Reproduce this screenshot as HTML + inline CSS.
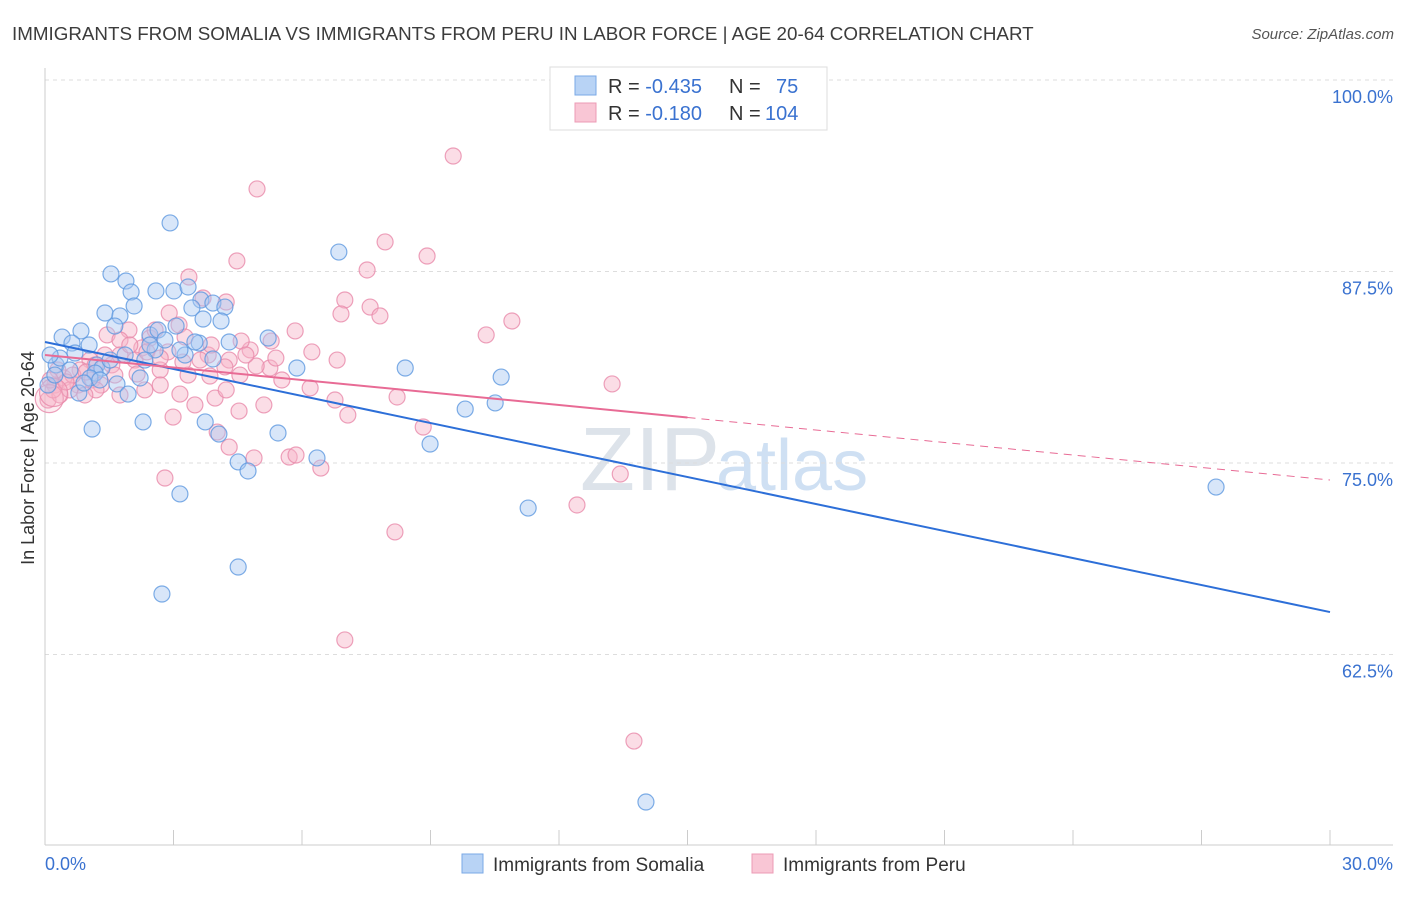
<!DOCTYPE html>
<html><head><meta charset="utf-8"><style>
body{margin:0;background:#fff;font-family:"Liberation Sans",sans-serif}
svg text{font-family:"Liberation Sans",sans-serif}
</style></head><body>
<svg id="c" width="1406" height="892" xmlns="http://www.w3.org/2000/svg">
<text x="12" y="40" font-size="18.8" fill="#3c3c3c">IMMIGRANTS FROM SOMALIA VS IMMIGRANTS FROM PERU IN LABOR FORCE | AGE 20-64 CORRELATION CHART</text>
<text x="1394" y="39" font-size="15" fill="#555" font-style="italic" text-anchor="end">Source: ZipAtlas.com</text>
<text x="720" y="490" font-size="90" fill="#dde3ea" text-anchor="end" font-family="Liberation Serif">ZIP</text>
<text x="716" y="490" font-size="72" fill="#cfe0f3">atlas</text>
<text transform="translate(34,458) rotate(-90)" font-size="18" fill="#333" text-anchor="middle">In Labor Force | Age 20-64</text>
<g id="grid"></g><g id="pts"></g><g id="lines"></g>
<g>
<rect x="550" y="67" width="277" height="63" fill="#fff" stroke="#ddd"/>
<rect x="575" y="76" width="21" height="19" fill="#b8d3f5" stroke="#7aa8e6"/>
<rect x="575" y="103" width="21" height="19" fill="#f9c6d5" stroke="#ec9bb5"/>
<text x="608" y="93" font-size="20" fill="#333">R = <tspan fill="#3a72d0">-0.435</tspan><tspan x="729">N =</tspan><tspan x="776" fill="#3a72d0">75</tspan></text>
<text x="608" y="120" font-size="20" fill="#333">R = <tspan fill="#3a72d0"> -0.180</tspan><tspan x="729">N =</tspan><tspan x="765" fill="#3a72d0">104</tspan></text>
</g>
<g>
<rect x="462" y="854" width="21" height="19" fill="#b8d3f5" stroke="#7aa8e6"/>
<text x="493" y="871" font-size="19" fill="#333">Immigrants from Somalia</text>
<rect x="752" y="854" width="21" height="19" fill="#f9c6d5" stroke="#ec9bb5"/>
<text x="783" y="871" font-size="19" fill="#333">Immigrants from Peru</text>
</g>
<text x="45" y="870" font-size="18" fill="#3a72d0">0.0%</text>
<text x="1393" y="870" font-size="18" fill="#3a72d0" text-anchor="end">30.0%</text>
</svg>
<script>
const yTicks=[100,87.5,75,62.5];
const yTickLabels=["100.0%","87.5%","75.0%","62.5%"];
const xTicks=[0,3,6,9,12,15,18,21,24,27,30];
const somaliaX=[2.92,6.86,1.54,1.89,2.01,2.59,3.01,3.34,3.64,3.92,4.20,3.43,2.08,1.40,1.75,3.69,4.11,0.84,0.40,1.63,2.45,2.64,3.06,3.60,4.30,5.21,0.63,1.03,0.26,0.35,0.70,1.21,1.33,1.17,1.05,0.07,3.27,3.92,5.88,8.41,10.65,1.68,0.79,1.94,2.22,9.81,10.51,2.29,3.74,1.10,4.06,5.44,8.99,6.35,4.51,4.74,3.15,11.28,27.34,4.51,2.73,14.03,2.57,2.80,0.12,0.58,0.91,1.52,2.45,3.15,1.28,0.23,1.87,2.33,3.50];
const somaliaY=[90.67,88.77,87.34,86.88,86.16,86.23,86.23,86.49,85.64,85.44,85.18,85.12,85.25,84.79,84.60,84.40,84.27,83.62,83.22,83.94,83.36,83.68,83.94,82.83,82.90,83.16,82.83,82.70,81.40,81.85,82.18,81.40,81.20,80.87,80.55,80.09,82.05,81.79,81.20,81.20,80.61,80.16,79.57,79.50,80.55,78.52,78.92,77.68,77.68,77.22,76.89,76.96,76.24,75.33,75.07,74.48,72.98,72.06,73.43,68.21,66.45,52.87,82.38,83.03,82.05,81.07,80.22,81.72,82.70,82.38,80.42,80.74,82.05,81.72,82.90];
const peruX=[9.53,4.95,7.94,8.92,4.48,7.52,3.36,7.00,7.59,6.91,7.82,10.90,10.30,4.23,3.69,2.90,3.13,1.96,1.45,1.75,2.45,3.27,5.28,5.84,6.23,6.82,4.79,4.30,3.81,2.87,2.26,1.40,1.05,0.82,0.44,0.23,0.07,0.35,0.77,1.10,1.56,2.10,2.69,3.34,3.85,4.55,5.25,5.53,6.19,6.77,7.07,8.22,8.83,4.53,5.11,3.97,3.50,2.99,4.02,13.24,4.30,4.88,5.70,5.86,6.44,13.43,12.42,2.80,8.17,7.00,13.75,0.19,0.58,1.17,1.75,2.38,2.69,1.31,1.63,0.30,0.65,3.22,3.62,4.20,4.93,5.39,0.49,0.96,1.98,2.57,4.58,3.88,4.23,4.69,3.15,2.33,1.75,1.19,0.12,2.15,2.69,0.93,0.10,0.20];
const peruY=[95.04,92.89,89.43,88.51,88.19,87.60,87.14,85.64,85.18,84.73,84.60,84.27,83.36,85.51,85.77,84.79,84.01,83.68,83.36,83.03,83.16,83.22,82.96,83.62,82.25,81.72,82.38,81.72,82.05,82.25,82.51,82.05,81.72,81.07,80.55,80.09,79.11,79.44,80.09,80.42,81.40,81.72,81.07,80.74,80.68,80.74,81.20,80.42,79.90,79.11,78.13,79.31,77.35,78.39,78.79,79.24,78.79,78.00,77.02,80.16,76.04,75.33,75.39,75.52,74.67,74.28,72.26,74.02,70.50,63.45,56.85,79.77,79.77,81.40,82.05,82.25,81.85,80.09,80.74,81.07,80.74,81.59,81.72,81.27,81.33,81.85,80.29,80.94,82.70,83.68,82.96,82.70,79.77,82.05,79.50,79.77,79.44,79.77,80.42,80.81,80.09,79.44,79.2,79.6];
const somaliaTrend=[82.9,65.27];
const peruTrend=[82.05,73.89];
const NS="http://www.w3.org/2000/svg";
const X0=45,X1=1330,Y0=80,YS=15.32;
function sx(v){return X0+(X1-X0)*v/30;}
function sy(v){return Y0+(100-v)*YS;}
function mk(t,a,p){const e=document.createElementNS(NS,t);for(const k in a)e.setAttribute(k,a[k]);p.appendChild(e);return e;}
const grid=document.getElementById('grid');
yTicks.forEach((t,i)=>{
 const l=mk('line',{x1:X0,x2:1393,y1:sy(t),y2:sy(t),stroke:'#ddd','stroke-dasharray':'4 4'},grid);
 
 
 const tx=mk('text',{x:1393,y:sy(t)+23,'font-size':18,fill:'#3a72d0','text-anchor':'end'},grid);
 tx.textContent=yTickLabels[i];
 
 
});
const ax=mk('line',{x1:X0,x2:X0,y1:68,y2:845,stroke:'#ccc'},grid);


const bx=mk('line',{x1:X0,x2:1393,y1:845,y2:845,stroke:'#ccc'},grid);


xTicks.forEach(t=>{
 const l=mk('line',{x1:sx(t),x2:sx(t),y1:830,y2:845,stroke:'#ccc'},grid);
 
 
});
const pts=document.getElementById('pts');
function draw(xs,ys,fill,stroke,name){
 xs.forEach((x,i)=>{
  const big=(name==='peru-point'&&i>=xs.length-2);
  const c=mk('circle',{cx:sx(x),cy:sy(ys[i]),r:big?14:8,fill:fill,'fill-opacity':big?0.25:0.45,stroke:stroke,'stroke-width':1.2,'stroke-opacity':0.8},pts);
  
  
 });
}
draw(peruX,peruY,'#f6b3c8','#e88aaa','peru-point');
draw(somaliaX,somaliaY,'#a8c8f2','#5e98e0','somalia-point');
const ln=document.getElementById('lines');
const bl=mk('line',{x1:sx(0),y1:sy(somaliaTrend[0]),x2:sx(30),y2:sy(somaliaTrend[1]),stroke:'#2d6fd8','stroke-width':2},ln);


const pm=peruTrend[0]+(peruTrend[1]-peruTrend[0])*0.5;
const pl=mk('line',{x1:sx(0),y1:sy(peruTrend[0]),x2:sx(15),y2:sy(pm),stroke:'#e86b95','stroke-width':2},ln);


const pd=mk('line',{x1:sx(15),y1:sy(pm),x2:sx(30),y2:sy(peruTrend[1]),stroke:'#e86b95','stroke-width':1,'stroke-dasharray':'8 6'},ln);


</script>
</body></html>
